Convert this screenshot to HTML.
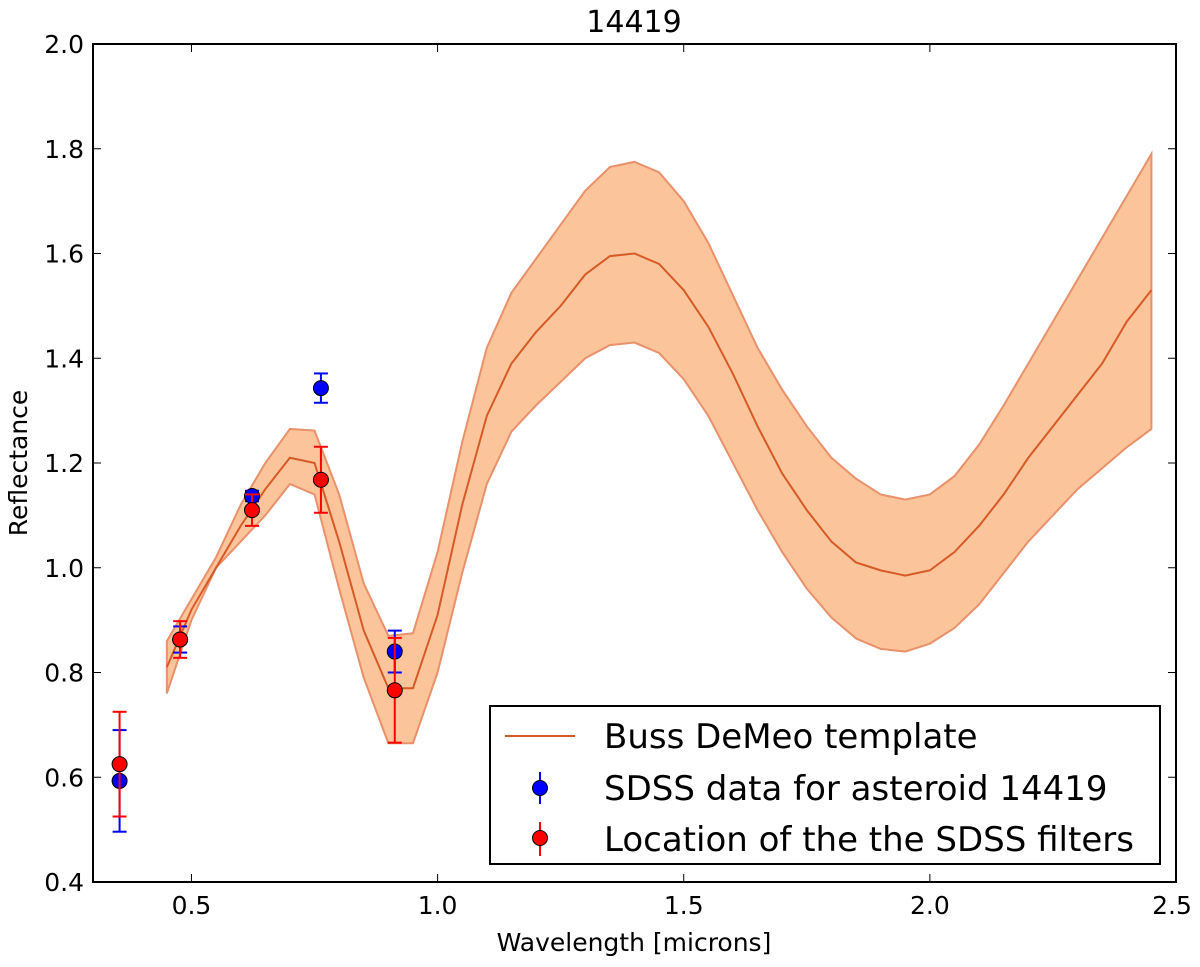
<!DOCTYPE html>
<html><head><meta charset="utf-8"><style>
body{margin:0;background:#fff}
svg text{font-family:"DejaVu Sans","Liberation Sans",sans-serif;fill:#000}
</style></head><body>
<svg id="chart" width="1200" height="962" xmlns="http://www.w3.org/2000/svg">
<g id="band"></g>
<g id="line"></g>
<g id="pts"></g>
<rect x="93" y="44" width="1083" height="838" fill="none" stroke="#000" stroke-width="2"/>
<g id="axes"></g>
<text x="634" y="32" font-size="30" text-anchor="middle">14419</text>
<text x="634" y="951" font-size="25" text-anchor="middle">Wavelength [microns]</text>
<text transform="translate(27,463) rotate(-90)" font-size="25" text-anchor="middle">Reflectance</text>
<g>
<rect x="490" y="706" width="670" height="158" fill="#fff" stroke="#000" stroke-width="2"/>
<line x1="505" y1="736" x2="575" y2="736" stroke="#d65a26" stroke-width="2"/>
<text x="604" y="748" font-size="34">Buss DeMeo template</text>
<line x1="540" y1="772" x2="540" y2="804" stroke="#00f" stroke-width="2"/>
<circle cx="540" cy="788" r="7.5" fill="#00f" stroke="#000"/>
<text x="604" y="800" font-size="34">SDSS data for asteroid 14419</text>
<line x1="540" y1="822" x2="540" y2="856" stroke="#f00" stroke-width="2"/>
<circle cx="540" cy="838" r="7.5" fill="#f00" stroke="#000"/>
<text x="604" y="851" font-size="34">Location of the the SDSS filters</text>
</g>
</svg>
<script>
const wl=[0.45,0.5,0.55,0.6,0.65,0.7,0.75,0.8,0.85,0.9,0.95,1.0,1.05,1.1,1.15,1.2,1.25,1.3,1.35,1.4,1.45,1.5,1.55,1.6,1.65,1.7,1.75,1.8,1.85,1.9,1.95,2.0,2.05,2.1,2.15,2.2,2.25,2.3,2.35,2.4,2.45];
const mid=[0.81,0.92,1.0,1.08,1.15,1.21,1.20,1.05,0.88,0.77,0.77,0.91,1.12,1.29,1.39,1.45,1.5,1.56,1.595,1.6,1.58,1.53,1.46,1.37,1.27,1.18,1.11,1.05,1.01,0.995,0.985,0.995,1.03,1.08,1.14,1.21,1.27,1.33,1.39,1.47,1.53];
const lo=[0.76,0.9,1.0,1.05,1.1,1.16,1.14,0.96,0.79,0.665,0.665,0.8,0.99,1.16,1.26,1.31,1.355,1.4,1.425,1.43,1.41,1.36,1.29,1.2,1.11,1.03,0.96,0.905,0.865,0.845,0.84,0.855,0.885,0.93,0.99,1.05,1.1,1.15,1.19,1.23,1.265];
const hi=[0.86,0.94,1.02,1.12,1.2,1.265,1.262,1.14,0.97,0.87,0.875,1.03,1.24,1.42,1.525,1.59,1.655,1.72,1.765,1.775,1.755,1.70,1.62,1.52,1.42,1.34,1.27,1.21,1.17,1.14,1.13,1.14,1.175,1.235,1.31,1.39,1.47,1.55,1.63,1.71,1.79];
const ptX=[0.354,0.477,0.623,0.763,0.913];
const blueY=[0.593,0.863,1.137,1.343,0.84];
const blueErr=[0.097,0.025,0.01,0.028,0.04];
const redY=[0.625,0.863,1.11,1.168,0.766];
const redErr=[0.1,0.035,0.03,0.063,0.1];
const xTicks=[0.5,1.0,1.5,2.0,2.5];
const yTicks=[0.4,0.6,0.8,1.0,1.2,1.4,1.6,1.8,2.0];
const X=v=>93+(v-0.3)/2.2*1083, Y=v=>882-(v-0.4)/1.6*838;
const NS='http://www.w3.org/2000/svg';
function mk(t,a,p){const e=document.createElementNS(NS,t);for(const k in a)e.setAttribute(k,a[k]);p.appendChild(e);return e;}
let d=wl.map((w,i)=>(i?'L':'M')+X(w)+','+Y(hi[i])).join('')+wl.slice().reverse().map((w,j)=>{const i=wl.length-1-j;return 'L'+X(w)+','+Y(lo[i]);}).join('')+'Z';
const b=mk('path',{d:d,fill:'#fbc49a',stroke:'#e8916a','stroke-width':2},document.getElementById('band'));


const l=mk('path',{d:wl.map((w,i)=>(i?'L':'M')+X(w)+','+Y(mid[i])).join(''),fill:'none',stroke:'#d65a26','stroke-width':2},document.getElementById('line'));


const P=document.getElementById('pts');
function series(ys,errs,col,name){ptX.forEach((x,i)=>{const g=mk('g',{},P);


const cx=X(x),t=Y(ys[i]+errs[i]),bt=Y(ys[i]-errs[i]);
mk('line',{x1:cx,x2:cx,y1:t,y2:bt,stroke:col,'stroke-width':2},g);
mk('line',{x1:cx-7,x2:cx+7,y1:t,y2:t,stroke:col,'stroke-width':2},g);
mk('line',{x1:cx-7,x2:cx+7,y1:bt,y2:bt,stroke:col,'stroke-width':2},g);
mk('circle',{cx:cx,cy:Y(ys[i]),r:7.5,fill:col,stroke:'#000'},g);});}
series(blueY,blueErr,'#00f','sdss');
series(redY,redErr,'#f00','filter');
const A=document.getElementById('axes');
xTicks.forEach(v=>{const x=X(v);mk('line',{x1:x,x2:x,y1:882,y2:874,stroke:'#000'},A);mk('line',{x1:x,x2:x,y1:44,y2:52,stroke:'#000'},A);
const t=mk('text',{x:v==2.5?x-4:x,y:914,'font-size':25,'text-anchor':'middle'},A);t.textContent=v.toFixed(1);

});
yTicks.forEach(v=>{const y=Y(v);mk('line',{x1:93,x2:101,y1:y,y2:y,stroke:'#000'},A);mk('line',{x1:1168,x2:1176,y1:y,y2:y,stroke:'#000'},A);
const t=mk('text',{x:84,y:y+9,'font-size':25,'text-anchor':'end'},A);t.textContent=v.toFixed(1);

});
</script>
</body></html>
